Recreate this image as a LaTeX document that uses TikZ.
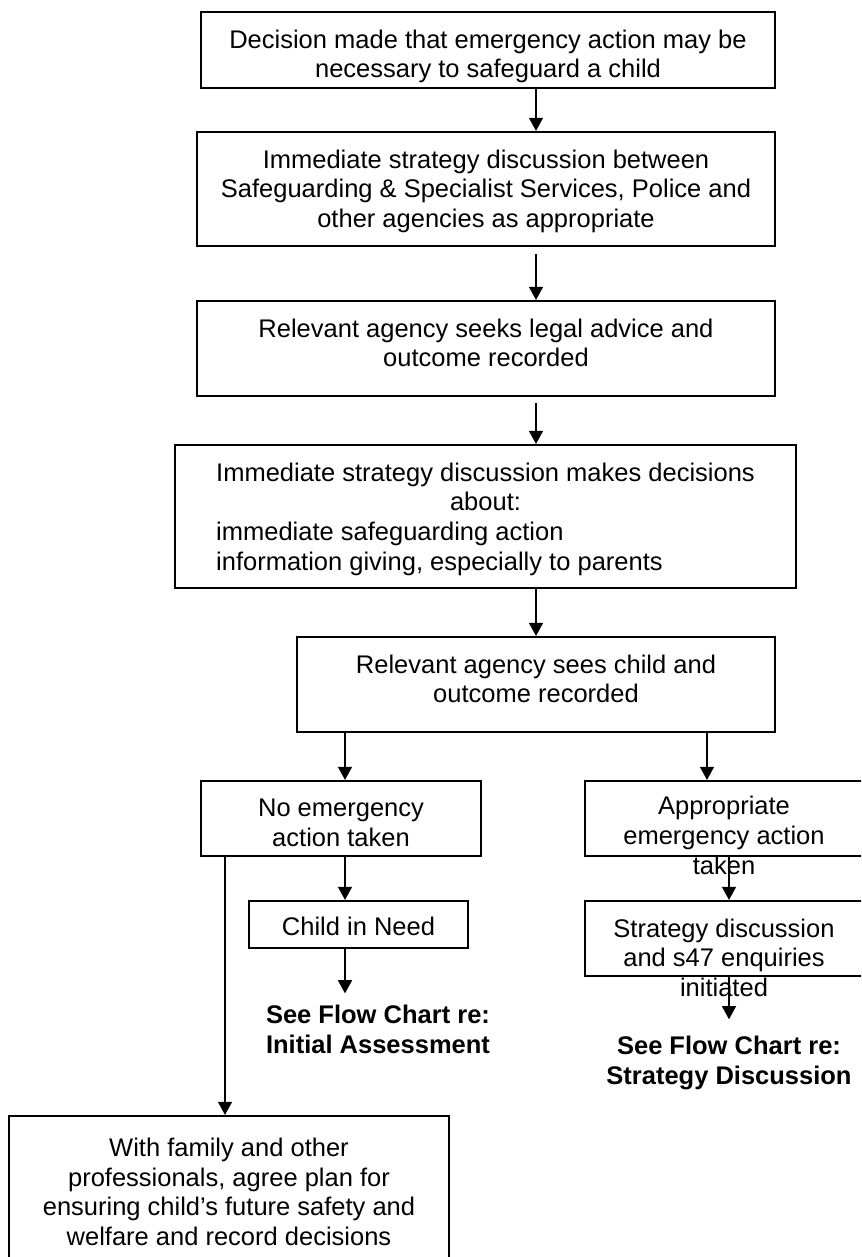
\documentclass[tikz,border=0pt]{standalone}
\usepackage{fontspec}
\setmainfont{Liberation Sans}
\usetikzlibrary{arrows.meta}

\newcommand{\pxu}{0.4706pt}
\newcommand{\wideline}{\phantom{Immediate strategy discussion makes decisions}}

\tikzset{
  box/.style 2 args={draw, line width=1pt, inner sep=0pt, minimum width=#1*\pxu, minimum height=#2*\pxu},
  txt/.style={inner sep=0pt, align=center, anchor=north},
  seealso/.style={inner sep=0pt, align=center, anchor=north, font=\fontsize{12}{14.1}\selectfont\bfseries}
}

\begin{document}
\begin{tikzpicture}[x=0.4706pt, y=-0.4706pt, >={Triangle[width=6.6pt,length=6.2pt]}, line width=0.7pt, font=\fontsize{12}{14.1}\selectfont]
	\useasboundingbox (0,0) rectangle (861,1257);
	\clip (0,0) rectangle (861,1257);
	% boxes
	\node[box={574}{76}] (b1) at (488,50) {};
	\node[box={578}{114}] (b2) at (486,189) {};
	\node[box={578}{95}] (b3) at (486,348.5) {};
	\node[box={621}{143}] (b4) at (485.5,516.5) {};
	\node[box={478}{95}] (b5) at (536,684.5) {};
	\node[box={280}{75}] (b6) at (341,818.5) {};
	\node[box={219}{47}] (b7) at (358.5,924.5) {};
	\node[box={278}{75}] (b8) at (724,818.5) {};
	\node[box={278}{75}] (b9) at (724,938.5) {};
	\node[box={440}{174}] (b10) at (229,1203) {};
	% texts
	\node[txt] (t1) at ([yshift=-8.4pt]b1.north) {Decision made that emergency action may be\\ necessary to safeguard a child};
	\node[txt] (t2) at ([yshift=-8.4pt]b2.north) {Immediate strategy discussion between\\ Safeguarding \& Specialist Services, Police and\\ other agencies as appropriate};
	\node[txt] (t3) at ([yshift=-8.4pt]b3.north) {Relevant agency seeks legal advice and\\ outcome recorded};
	\node[txt] (t4) at ([yshift=-8.4pt]b4.north) {Immediate strategy discussion makes decisions\\ about:\\ \rlap{immediate safeguarding action}\wideline\\ \rlap{information giving, especially to parents}\wideline};
	\node[txt] (t5) at ([yshift=-8.4pt]b5.north) {Relevant agency sees child and\\ outcome recorded};
	\node[txt] (t6) at ([yshift=-8.4pt]b6.north) {No emergency\\ action taken};
	\node[txt] (t7) at ([yshift=-7.9pt]b7.north) {Child in Need};
	\node[txt] (t8) at ([yshift=-7.4pt]b8.north) {Appropriate\\ emergency action\\ taken};
	\node[txt] (t9) at ([yshift=-8.4pt]b9.north) {Strategy discussion\\ and s47 enquiries\\ initiated};
	\node[txt] (t10) at ([yshift=-10.3pt]b10.north) {With family and other\\ professionals, agree plan for\\ ensuring child’s future safety and\\ welfare and record decisions};
	\node[seealso] (ia) at (378,1004) {See Flow Chart re:\\ Initial Assessment};
	\node[seealso] (sd) at (729,1035) {See Flow Chart re:\\ Strategy Discussion};
	% arrow columns
	\coordinate (xm) at (536,0);
	\coordinate (xl) at (345,0);
	\coordinate (xr) at (707,0);
	\coordinate (xs) at (729,0);
	\coordinate (xf) at (225,0);
	% connectors
	\draw[->] (b1.south -| xm) -- (b2.north -| xm);
	\draw[->, shorten <=3.3pt] (b2.south -| xm) -- (b3.north -| xm);
	\draw[->, shorten <=3pt] (b3.south -| xm) -- (b4.north -| xm);
	\draw[->] (b4.south -| xm) -- (b5.north -| xm);
	\draw[->] (b5.south -| xl) -- (b6.north -| xl);
	\draw[->] (b5.south -| xr) -- (b8.north -| xr);
	\draw[->] (b6.south -| xl) -- (b7.north -| xl);
	\draw[->, shorten >=5pt] (b7.south -| xl) -- (ia.north -| xl);
	\draw[->] (b8.south -| xs) -- (b9.north -| xs);
	\draw[->, shorten >=7.4pt] (b9.south -| xs) -- (sd.north -| xs);
	\draw[->] (b6.south -| xf) -- (b10.north -| xf);
\end{tikzpicture}
\end{document}
